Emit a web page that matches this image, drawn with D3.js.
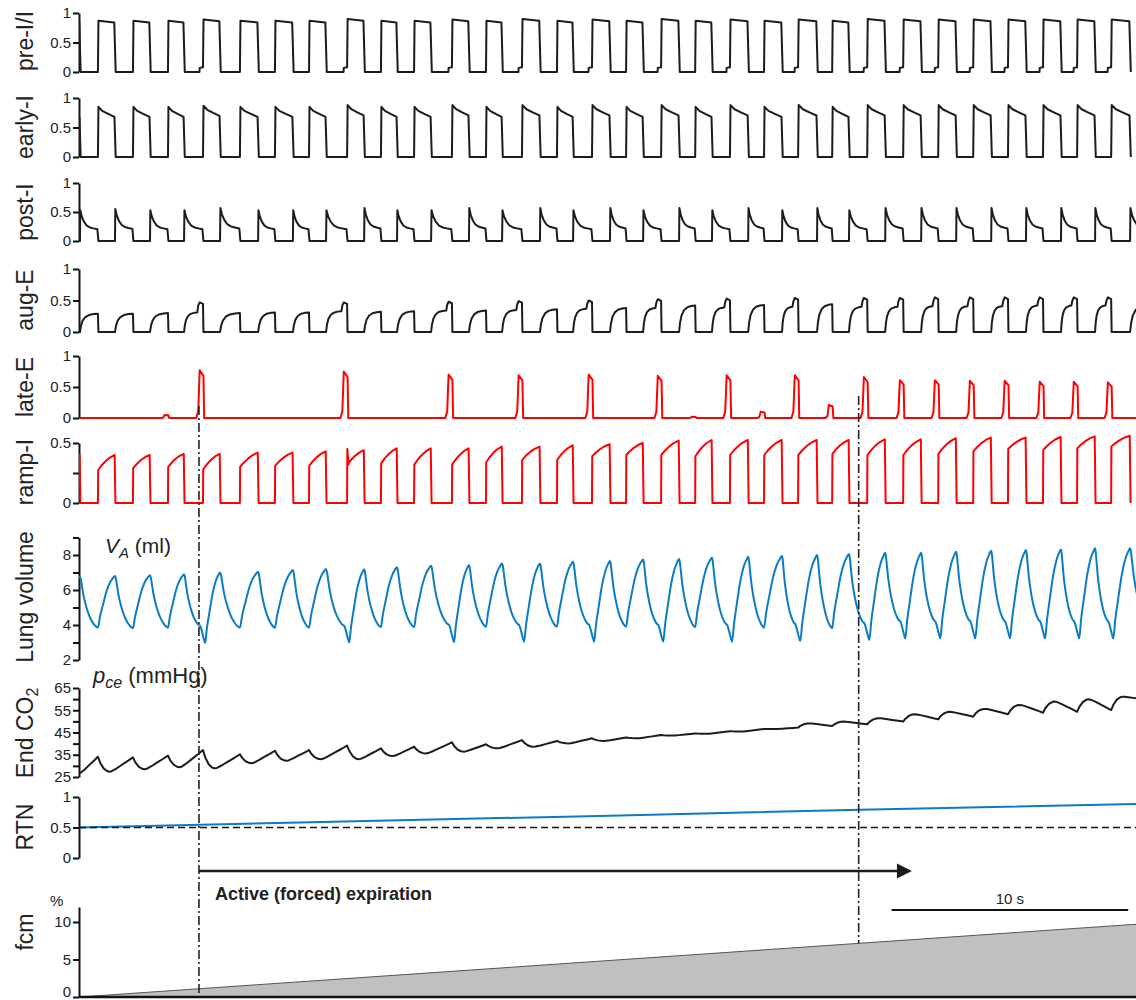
<!DOCTYPE html>
<html>
<head>
<meta charset="utf-8">
<script src="https://cdn.jsdelivr.net/npm/d3@7"></script>
<style>
  body { margin: 0; background: #fff; }
  svg { display: block; font-family: "Liberation Sans", Arial, sans-serif; }
  .axis path, .axis line { stroke: #111; stroke-width: 2; }
  .axis text { font-size: 15px; fill: #222; font-family: "Liberation Sans", Arial, sans-serif; }
  .ylab { font-size: 23px; fill: #222; }
</style>
</head>
<body>
<svg id="chart" width="1136" height="1000"></svg>
<script>
// ---- timing (seconds) ----
const tEnd = 44.67;
const firstOnset = -0.68;   // inspiration already running at the left edge
const nextOnset = 45.18;    // next one, past the right edge
const onsets = [0.80, 2.28, 3.76, 5.24, 6.80, 8.28, 9.72, 11.33, 12.76, 14.16,
  15.76, 17.20, 18.72, 20.20, 21.68, 23.12, 24.60, 26.04, 27.51, 28.95,
  30.39, 31.83, 33.31, 34.83, 36.31, 37.79, 39.26, 40.74, 42.18, 43.62];
const offsets = [0.04, 1.52, 3.00, 4.44, 5.96, 7.57, 9.04, 10.44, 12.05, 13.44,
  14.88, 16.48, 17.88, 19.48, 20.88, 22.44, 23.84, 25.36, 26.75, 28.28,
  29.71, 31.19, 32.54, 34.07, 35.59, 37.07, 38.55, 40.02, 41.50, 42.94, 44.42];

// per inspiration (31, first one is cut by the left edge)
const preIHigh = [0.88, 0.87, 0.87, 0.87, 0.89, 0.87, 0.87, 0.87, 0.9, 0.87, 0.87, 0.89, 0.87, 0.9, 0.87,
  0.89, 0.87, 0.9, 0.87, 0.89, 0.87, 0.89, 0.87, 0.9, 0.89, 0.89, 0.89, 0.89, 0.89, 0.89, 0.89];
const earlyIPeak = [0.84, 0.85, 0.85, 0.85, 0.87, 0.85, 0.85, 0.85, 0.88, 0.85, 0.85, 0.88, 0.85, 0.88, 0.85,
  0.88, 0.85, 0.88, 0.85, 0.88, 0.85, 0.88, 0.85, 0.88, 0.88, 0.88, 0.88, 0.88, 0.88, 0.88, 0.88];
const rampStart = [0.30, 0.275, 0.29, 0.30, 0.28, 0.30, 0.31, 0.31, 0.32, 0.33, 0.32, 0.32, 0.34, 0.36, 0.36,
  0.39, 0.40, 0.40, 0.39, 0.40, 0.40, 0.40, 0.41, 0.40, 0.40, 0.41, 0.43, 0.45, 0.44, 0.455, 0.47];
const rampEnd = [0.40, 0.40, 0.40, 0.41, 0.41, 0.42, 0.42, 0.43, 0.44, 0.455, 0.455, 0.455, 0.47, 0.47, 0.48,
  0.49, 0.50, 0.52, 0.525, 0.525, 0.525, 0.525, 0.525, 0.53, 0.53, 0.54, 0.545, 0.545, 0.55, 0.555, 0.56];
const rampSpike = [0, 0, 0, 0, 0, 0, 0, 0, 0.45, 0, 0, 0, 0, 0, 0, 0, 0, 0, 0, 0, 0, 0, 0, 0, 0, 0, 0, 0, 0, 0, 0];
const lungPeak = [6.75, 6.8, 6.85, 6.9, 7.0, 7.05, 7.14, 7.2, 7.18, 7.30, 7.39, 7.43, 7.52, 7.52, 7.62, 7.66,
  7.75, 7.77, 7.85, 7.90, 7.94, 8.0, 8.06, 8.13, 8.13, 8.19, 8.25, 8.29, 8.32, 8.38, 8.38];

// per expiration (31, last one is cut by the right edge)
const postIPeak = [0.53, 0.55, 0.53, 0.53, 0.57, 0.53, 0.53, 0.53, 0.57, 0.53, 0.53, 0.57, 0.53, 0.57, 0.53,
  0.57, 0.53, 0.57, 0.53, 0.57, 0.53, 0.57, 0.53, 0.57, 0.57, 0.57, 0.57, 0.57, 0.57, 0.57, 0.57];
const augPlateau = [0.29, 0.29, 0.30, 0.31, 0.30, 0.31, 0.31, 0.33, 0.32, 0.33, 0.34, 0.34, 0.35, 0.36, 0.37,
  0.38, 0.38, 0.42, 0.39, 0.43, 0.40, 0.44, 0.40, 0.40, 0.41, 0.41, 0.41, 0.42, 0.42, 0.42, 0.42];
const augBump = [0, 0, 0, 0.47, 0, 0, 0, 0.47, 0, 0, 0.48, 0, 0.49, 0, 0.5, 0, 0.52, 0, 0.53, 0,
  0.54, 0, 0.54, 0.54, 0.55, 0.55, 0.55, 0.55, 0.55, 0.55, 0];
const lungTrough = [3.85, 3.82, 3.85, 3.95, 3.85, 3.85, 3.85, 3.95, 3.88, 3.88, 4.0, 3.9, 4.0, 3.9, 4.0,
  3.9, 4.0, 3.88, 4.0, 3.85, 4.05, 3.82, 4.1, 4.2, 4.2, 4.2, 4.2, 4.2, 4.2, 4.2, 4.2];
const lungDip = [null, null, null, 2.97, null, null, null, 3.0, null, null, 3.02, null, 3.05, null, 3.05,
  null, 3.05, null, 3.05, null, 3.08, null, 3.14, 3.24, 3.24, 3.24, 3.24, 3.24, 3.24, 3.24, null];

// per onset (30)
const preIStep = [0, 0, 0, 0.07, 0, 0, 0, 0.07, 0, 0, 0.07, 0, 0.07, 0, 0.07, 0, 0.07, 0, 0.07, 0,
  0.07, 0, 0.07, 0.07, 0.07, 0.07, 0.07, 0.07, 0.07, 0.07];
const lateEPeak = [0, 0, 0.05, 0.77, 0, 0, 0, 0.75, 0, 0, 0.70, 0, 0.69, 0, 0.70, 0, 0.68, 0.02, 0.69, 0.1,
  0.69, 0.21, 0.66, 0.61, 0.61, 0.60, 0.60, 0.585, 0.585, 0.575];
const co2AtOnset = [34.1, 33.8, 34.6, 37.1, 35.2, 36.8, 37.1, 39.1, 37.9, 38.6, 40.6, 39.7, 41.6, 41.2, 42.4,
  42.8, 43.9, 44.6, 45.6, 46.6, 47.2, 47.9, 48.7, 49.9, 50.9, 52.1, 53.2, 53.9, 54.3, 55.1];
const co2AfterOnset = [27.4, 28.5, 29.4, 28.9, 31.2, 32.3, 33.0, 33.0, 34.4, 35.6, 36.4, 37.9, 38.6, 40.1, 41.2,
  42.4, 43.6, 44.4, 45.4, 46.6, 49.1, 49.9, 51.4, 53.2, 54.3, 55.6, 57.4, 58.9, 59.9, 61.1];
const co2Start = 26.8, co2End = 60.4;

// slow signals
const rtnTimes = [0, 11.2, 22, 33, 44.67];
const rtnValues = [0.5, 0.6, 0.69, 0.79, 0.885];
const fcmTimes = [0, 44.67];
const fcmValues = [0, 9.7];
const markerTimes = [5.07, 32.95];
const arrowEndTime = 35.2;
const scaleBar = [34.34, 44.34];

// shapes of one burst (phase 0..1, fraction of the burst value), read from single cycles
const preIShape = [[0.03, 1], [0.96, 0.965]];
const earlyIShape = [[0.03, 1], [0.25, 0.92], [0.6, 0.86], [0.97, 0.8]];
const rampShape = [[0, 0], [0.2, 0.3], [0.45, 0.6], [0.7, 0.83], [0.98, 1]];
const postIShape = [[0.02, 1], [0.1, 0.8], [0.22, 0.63], [0.38, 0.5], [0.55, 0.44], [0.75, 0.41], [0.97, 0.38]];
const augEShape = [[0, 0], [0.06, 0.35], [0.15, 0.62], [0.3, 0.82], [0.5, 0.93], [0.75, 0.98], [1, 1]];
const lateEShape = [[-0.28, 0], [-0.2, 0.15], [-0.14, 1], [0.02, 0.88], [0.05, 0]]; // seconds around onset
const lungExpShape = [[0, 1], [0.05, 0.95], [0.12, 0.8], [0.2, 0.63], [0.32, 0.45], [0.46, 0.29], [0.6, 0.17], [0.75, 0.08], [0.9, 0.02], [1, 0]];
const lungInsShape = [[0.12, 0.21], [0.3, 0.45], [0.5, 0.7], [0.7, 0.87], [0.88, 0.96], [1, 1]];
const co2DropShape = [[0, 0], [0.2, 0.4], [0.5, 0.78], [0.8, 0.96], [1, 1]];
const co2RiseShape = [[0, 0], [0.1, 0.03], [0.3, 0.22], [0.55, 0.5], [0.8, 0.77], [1, 1]];

const insStart = [firstOnset].concat(onsets);
const expEnd = onsets.concat([nextOnset]);

const svg = d3.select("#chart");
svg.append("rect").attr("width", 1136).attr("height", 1000).attr("fill", "#fff");

const x = d3.scaleLinear().domain([0, tEnd]).range([79, 1136]);

const y = {
  preI: d3.scaleLinear().domain([0, 1]).range([72, 13]),
  earlyI: d3.scaleLinear().domain([0, 1]).range([157, 98]),
  postI: d3.scaleLinear().domain([0, 1]).range([241, 183]),
  augE: d3.scaleLinear().domain([0, 1]).range([332, 269]),
  lateE: d3.scaleLinear().domain([0, 1]).range([418, 356]),
  rampI: d3.scaleLinear().domain([0, 0.5]).range([503, 443]),
  lung: d3.scaleLinear().domain([2, 9]).range([660, 537.5]),
  co2: d3.scaleLinear().domain([25, 65]).range([777, 688]),
  rtn: d3.scaleLinear().domain([0, 1]).range([858, 797]),
  fcm: d3.scaleLinear().domain([0, 12]).range([997, 907])
};

// ---- axes ----
function addAxis(scale, ticks, labelled) {
  return svg.append("g")
    .attr("class", "axis")
    .attr("transform", "translate(79,0)")
    .call(d3.axisLeft(scale).tickValues(ticks).tickSize(6).tickSizeOuter(0).tickPadding(2)
      .tickFormat(d => labelled.includes(d) ? String(d) : ""));
}
["preI", "earlyI", "postI", "augE", "lateE", "rtn"].forEach(k => addAxis(y[k], [0, 0.5, 1], [0, 0.5, 1]));
addAxis(y.rampI, [0, 0.25, 0.5], [0, 0.5]);
addAxis(y.lung, d3.range(2, 10), [2, 4, 6, 8]);
addAxis(y.co2, d3.range(25, 66, 5), [25, 35, 45, 55, 65]);
const fcmAxis = addAxis(y.fcm, [0, 5, 10], [0, 5, 10]);
// the 0 label sits a little above its tick so it stays on the page
fcmAxis.selectAll(".tick text").filter(d => d === 0).attr("dy", "-0.05em");

// ---- y labels ----
const ylabels = [
  ["pre-I/I", 41], ["early-I", 127], ["post-I", 212], ["aug-E", 300], ["late-E", 387],
  ["ramp-I", 472], ["Lung volume", 597], ["RTN", 827], ["fcm", 932]
];
ylabels.forEach(([t, cy]) => {
  svg.append("text").attr("class", "ylab")
    .attr("transform", `translate(33,${cy}) rotate(-90)`)
    .attr("text-anchor", "middle").text(t);
});
const co2lab = svg.append("text").attr("class", "ylab")
  .attr("transform", "translate(33,733) rotate(-90)").attr("text-anchor", "middle");
co2lab.append("tspan").text("End CO");
co2lab.append("tspan").attr("dy", 5).attr("font-size", 16).text("2");

const va = svg.append("text").attr("x", 105).attr("y", 553).attr("font-size", 21).attr("fill", "#222");
va.append("tspan").attr("font-style", "italic").text("V");
va.append("tspan").attr("font-style", "italic").attr("font-size", 15).attr("dy", 5).text("A");
va.append("tspan").attr("dy", -5).text(" (ml)");

const pce = svg.append("text").attr("x", 93).attr("y", 683).attr("font-size", 22).attr("fill", "#222");
pce.append("tspan").attr("font-style", "italic").text("p");
pce.append("tspan").attr("font-style", "italic").attr("font-size", 16).attr("dy", 5).text("ce");
pce.append("tspan").attr("dy", -5).text(" (mmHg)");

svg.append("text").attr("x", 50).attr("y", 906).attr("font-size", 15).attr("fill", "#222").text("%");

// ---- trace builders ----
const between = (t0, t1, v0, v1, shape) => shape.map(([p, f]) => [t0 + p * (t1 - t0), v0 + f * (v1 - v0)]);

function inspBursts(high, shape, step) {
  const pts = [];
  insStart.forEach((t0, k) => {
    const t1 = offsets[k];
    const s = step && k > 0 ? step[k - 1] : 0;
    if (s > 0) pts.push([t0 - 0.15, 0], [t0 - 0.14, s], [t0, s + 0.01]);
    else pts.push([t0, 0]);
    between(t0, t1, 0, high[k], shape).forEach(p => pts.push(p));
    pts.push([t1 + 0.03, 0]);
  });
  return pts;
}

function rampPoints() {
  const pts = [];
  insStart.forEach((t0, k) => {
    const t1 = offsets[k];
    pts.push([t0, 0]);
    if (rampSpike[k] > 0) pts.push([t0 + 0.01, rampSpike[k]], [t0 + 0.06, rampStart[k]]);
    between(t0 + 0.01, t1, rampStart[k], rampEnd[k], rampShape).forEach(p => pts.push(p));
    pts.push([t1 + 0.02, 0]);
  });
  return pts;
}

function postIPoints() {
  const pts = [[0, 0]];
  offsets.forEach((t0, k) => {
    const t1 = expEnd[k];
    pts.push([t0, 0]);
    between(t0, t1, 0, postIPeak[k], postIShape).forEach(p => pts.push(p));
    pts.push([t1 + 0.02, 0]);
  });
  return pts;
}

function augEPoints() {
  const pts = [[0, 0]];
  offsets.forEach((t0, k) => {
    const t1 = expEnd[k], bump = augBump[k];
    const tShape = bump > 0 ? t1 - 0.24 : t1;
    pts.push([t0, 0]);
    between(t0, tShape, 0, augPlateau[k], augEShape).forEach(p => pts.push(p));
    if (bump > 0) pts.push([t1 - 0.2, bump * 0.9], [t1 - 0.14, bump], [t1, bump * 0.95]);
    pts.push([t1 + 0.02, 0]);
  });
  return pts;
}

function lateEPoints() {
  const pts = [[0, 0]];
  onsets.forEach((t, i) => {
    if (lateEPeak[i] > 0) lateEShape.forEach(([dt, f]) => pts.push([t + dt, f * lateEPeak[i]]));
  });
  pts.push([tEnd, 0]);
  return pts;
}

function lungPoints() {
  const pts = [[0, lungPeak[0]], [offsets[0], lungPeak[0]]];
  offsets.forEach((t0, k) => {
    const t1 = expEnd[k], peak = lungPeak[k], trough = lungTrough[k], dip = lungDip[k];
    const tFloor = dip != null ? t1 - 0.12 : t1;
    between(t0, tFloor, trough, peak, lungExpShape.slice(1)).forEach(p => pts.push(p));
    if (k + 1 >= insStart.length) return;
    let tIns = t1, vIns = trough;
    if (dip != null) {
      pts.push([t1 + 0.03, dip + 0.25], [t1 + 0.09, dip]);
      tIns = t1 + 0.09; vIns = dip;
    }
    between(tIns, offsets[k + 1], vIns, lungPeak[k + 1], lungInsShape).forEach(p => pts.push(p));
  });
  return pts;
}

function co2Points() {
  const pts = [[0, co2Start]];
  let tPrev = 0, vPrev = co2Start;
  onsets.forEach((t, i) => {
    between(tPrev, t, vPrev, co2AtOnset[i], co2RiseShape.slice(1)).forEach(p => pts.push(p));
    between(t, t + 0.48, co2AtOnset[i], co2AfterOnset[i], co2DropShape.slice(1)).forEach(p => pts.push(p));
    tPrev = t + 0.48; vPrev = co2AfterOnset[i];
  });
  between(tPrev, tEnd, vPrev, co2End, co2RiseShape.slice(1)).forEach(p => pts.push(p));
  return pts;
}

// ---- draw ----
svg.append("clipPath").attr("id", "plot").append("rect")
  .attr("x", 79).attr("y", 0).attr("width", 1136 - 79).attr("height", 1000);
const plot = svg.append("g").attr("clip-path", "url(#plot)");

// fcm ramp
const fcmPts = fcmTimes.map((t, i) => [t, fcmValues[i]]);
plot.append("path").datum(fcmPts)
  .attr("d", d3.area().x(d => x(d[0])).y0(y.fcm(0)).y1(d => y.fcm(d[1])))
  .attr("fill", "#c0c0c0");
plot.append("path").datum(fcmPts)
  .attr("d", d3.line().x(d => x(d[0])).y(d => y.fcm(d[1])))
  .attr("fill", "none").attr("stroke", "#555").attr("stroke-width", 1);
svg.append("line").attr("x1", 79).attr("x2", 1136).attr("y1", y.fcm(0)).attr("y2", y.fcm(0))
  .attr("stroke", "#111").attr("stroke-width", 2.5);

// RTN threshold and signal
svg.append("line").attr("x1", 79).attr("x2", 1136).attr("y1", y.rtn(0.5)).attr("y2", y.rtn(0.5))
  .attr("stroke", "#111").attr("stroke-width", 1.5).attr("stroke-dasharray", "7,4");

const traces = [
  [inspBursts(preIHigh, preIShape, preIStep), y.preI, "#1c1c1c", d3.curveLinear],
  [inspBursts(earlyIPeak, earlyIShape, null), y.earlyI, "#1c1c1c", d3.curveLinear],
  [postIPoints(), y.postI, "#1c1c1c", d3.curveLinear],
  [augEPoints(), y.augE, "#1c1c1c", d3.curveLinear],
  [lateEPoints(), y.lateE, "#ff0000", d3.curveLinear],
  [rampPoints(), y.rampI, "#ff0000", d3.curveLinear],
  [lungPoints(), y.lung, "#0a7cc4", d3.curveMonotoneX],
  [co2Points(), y.co2, "#1c1c1c", d3.curveLinear],
  [rtnTimes.map((t, i) => [t, rtnValues[i]]), y.rtn, "#0a7cc4", d3.curveLinear]
];
traces.forEach(([pts, ys, color, curve]) => {
  plot.append("path").datum(pts)
    .attr("d", d3.line().x(d => x(d[0])).y(d => ys(d[1])).curve(curve))
    .attr("fill", "none").attr("stroke", color).attr("stroke-width", 2)
    .attr("stroke-linejoin", "round");
});

// ---- markers, arrow, scale bar ----
const fcmAt = d3.scaleLinear().domain(fcmTimes).range(fcmValues);
svg.append("line")
  .attr("x1", x(markerTimes[0])).attr("x2", x(markerTimes[0])).attr("y1", 406).attr("y2", 995)
  .attr("stroke", "#222").attr("stroke-width", 1.6).attr("stroke-dasharray", "9,3,2,3");
svg.append("line")
  .attr("x1", x(markerTimes[1])).attr("x2", x(markerTimes[1])).attr("y1", 396).attr("y2", y.fcm(fcmAt(markerTimes[1])))
  .attr("stroke", "#222").attr("stroke-width", 1.6).attr("stroke-dasharray", "9,3,2,3");

const ax = x(arrowEndTime);
svg.append("line").attr("x1", x(markerTimes[0])).attr("x2", ax - 12).attr("y1", 871).attr("y2", 871)
  .attr("stroke", "#1c1c1c").attr("stroke-width", 2.5);
svg.append("polygon").attr("points", `${ax - 15},863.5 ${ax},871 ${ax - 15},878.5`).attr("fill", "#1c1c1c");
svg.append("text").attr("x", x(markerTimes[0]) + 16).attr("y", 900)
  .attr("font-size", 18).attr("font-weight", "bold").attr("fill", "#222")
  .text("Active (forced) expiration");

svg.append("line").attr("x1", x(scaleBar[0])).attr("x2", x(scaleBar[1])).attr("y1", 910).attr("y2", 910)
  .attr("stroke", "#111").attr("stroke-width", 2);
svg.append("text").attr("x", (x(scaleBar[0]) + x(scaleBar[1])) / 2).attr("y", 904)
  .attr("text-anchor", "middle").attr("font-size", 15).attr("fill", "#222").text("10 s");
</script>
</body>
</html>
